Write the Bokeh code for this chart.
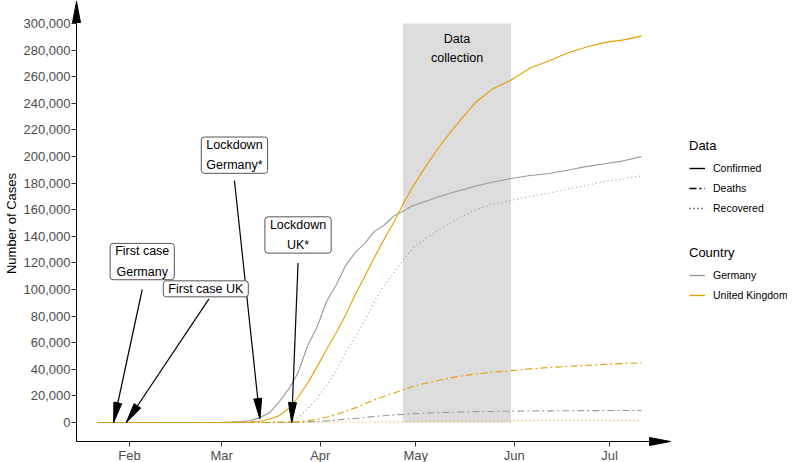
import math
import pandas as pd
from bokeh.plotting import figure
from bokeh.models import (Range1d, FixedTicker, NumeralTickFormatter, DatetimeTickFormatter,
                          Legend, LegendItem, Label)
from bokeh.embed import file_html
from bokeh.resources import INLINE

# ---------------- data ----------------
dates = ["2020-01-22", "2020-01-27", "2020-02-01", "2020-02-10", "2020-02-20", "2020-02-27",
         "2020-03-01", "2020-03-04", "2020-03-07", "2020-03-10", "2020-03-13", "2020-03-16",
         "2020-03-19", "2020-03-22", "2020-03-25", "2020-03-28", "2020-03-31", "2020-04-03",
         "2020-04-06", "2020-04-09", "2020-04-12", "2020-04-15", "2020-04-18", "2020-04-21",
         "2020-04-24", "2020-04-27", "2020-04-30", "2020-05-04", "2020-05-08", "2020-05-12",
         "2020-05-16", "2020-05-20", "2020-05-25", "2020-05-31", "2020-06-06", "2020-06-12",
         "2020-06-18", "2020-06-24", "2020-06-30", "2020-07-05", "2020-07-11"]

germany_confirmed = [0, 1, 8, 14, 16, 46, 130, 262, 799, 1457, 3675, 7272, 15320, 24873, 37323,
                     57695, 71808, 91159, 103374, 118181, 127854, 134753, 143724, 148291, 154999,
                     158758, 163009, 166152, 169575, 172576, 175233, 177778, 180600, 183410,
                     185674, 187184, 189822, 192556, 194693, 196554, 199919]
uk_confirmed = [0, 0, 2, 8, 9, 15, 36, 87, 209, 384, 800, 2500, 5000, 10500, 19000, 29500, 42000,
                55000, 67500, 81000, 96000, 110000, 124000, 137500, 150000, 164000, 177000,
                192000, 206000, 218500, 230000, 241000, 250500, 257500, 266500, 272000, 278000,
                282500, 286000, 287500, 290500]
germany_deaths = [0, 0, 0, 0, 0, 0, 0, 0, 0, 2, 7, 17, 44, 94, 206, 433, 775, 1275, 1810, 2607,
                  3022, 3804, 4538, 5033, 5760, 6126, 6623, 6993, 7392, 7661, 7914, 8144, 8283,
                  8522, 8685, 8763, 8856, 8927, 8985, 9016, 9068]
uk_deaths = [0, 0, 0, 0, 0, 0, 0, 0, 2, 6, 8, 56, 137, 281, 700, 1400, 2500, 4000, 6000, 8500,
             11000, 14000, 17000, 19500, 22000, 24500, 27000, 29500, 31600, 33500, 35200, 36500,
             37800, 39000, 40300, 41400, 42200, 43000, 43800, 44300, 44900]
germany_recovered = [0, 0, 0, 0, 14, 16, 16, 16, 18, 25, 46, 67, 113, 266, 3500, 10000, 18000,
                     28000, 39000, 53000, 64000, 77000, 91000, 103000, 112000, 122000, 131000,
                     138000, 144500, 150000, 155500, 160000, 164000, 167000, 170000, 172500,
                     175500, 178500, 181500, 183000, 185500]
uk_recovered = [0, 0, 0, 0, 8, 8, 8, 8, 18, 18, 18, 52, 65, 135, 140, 135, 135, 208, 325, 344,
                344, 368, 374, 540, 612, 644, 712, 821, 859, 874, 1119, 1134, 1161, 1190, 1240,
                1291, 1341, 1368, 1372, 1378, 1385]

month_ticks = ["2020-02-01", "2020-03-01", "2020-04-01", "2020-05-01", "2020-06-01", "2020-07-01"]
y_ticks = [0, 20000, 40000, 60000, 80000, 100000, 120000, 140000, 160000, 180000, 200000,
           220000, 240000, 260000, 280000, 300000]

collection_start = ["2020-04-27"]
collection_end = ["2020-05-31"]
collection_top = [300000]
collection_text = "Data\ncollection"
collection_text_date = "2020-05-14"
collection_text_value = 281000

event_labels = ["First case\nGermany", "First case UK", "Lockdown\nGermany*", "Lockdown\nUK*"]
event_dates = ["2020-01-27", "2020-01-31", "2020-03-13", "2020-03-23"]
event_values = [0, 0, 3000, 0]
label_dates = ["2020-02-05", "2020-02-25", "2020-03-05", "2020-03-25"]
label_values = [121000, 100500, 201000, 141000]
arrow_from_dates = ["2020-02-05", "2020-02-26", "2020-03-05", "2020-03-25"]
arrow_from_values = [100000, 93000, 182000, 120000]

# ---------------- styling / layout ----------------
FONT = "Liberation Sans"
GREY = "#999999"
ORANGE = "#E69F00"
BAND = "#dcdcdc"
DASHES = {"Confirmed": "solid", "Deaths": "7 3 2 3", "Recovered": "1 3"}

FRAME_W, FRAME_H = 716, 446
PX_PER_DAY = 3.18
PX_PER_UNIT = 1.33 / 1000.0
x_start = pd.Timestamp("2020-02-01") - pd.Timedelta(days=58 / PX_PER_DAY)
x_end = x_start + pd.Timedelta(days=FRAME_W / PX_PER_DAY)
y_end = 300000 + 23 / PX_PER_UNIT
y_start = y_end - FRAME_H / PX_PER_UNIT

p = figure(frame_width=FRAME_W, frame_height=FRAME_H, x_axis_type="datetime",
           x_range=Range1d(x_start, x_end), y_range=Range1d(y_start, y_end),
           output_backend="svg", toolbar_location=None,
           min_border_left=65, min_border_right=0, min_border_top=0, min_border_bottom=16)
p.outline_line_color = None
p.background_fill_color = "white"
p.border_fill_color = "white"
p.xgrid.visible = False
p.ygrid.visible = False

def ms(d):
    return pd.Timestamp(d).value / 1e6

X0, X1 = ms(x_start), ms(x_end)
sx = FRAME_W / (X1 - X0)          # px per ms
sy = FRAME_H / (y_end - y_start)  # px per unit

def fx(px):   # data x at px from frame left
    return X0 + px / sx

def fy(px):   # data y at px from frame bottom
    return y_start + px / sy

# data collection band
p.quad(left=pd.to_datetime(collection_start), right=pd.to_datetime(collection_end),
       bottom=[0], top=collection_top, fill_color=BAND, line_color=None)

x = pd.to_datetime(dates)
series = [
    (germany_confirmed, GREY, "Confirmed"), (uk_confirmed, ORANGE, "Confirmed"),
    (germany_deaths, GREY, "Deaths"), (uk_deaths, ORANGE, "Deaths"),
    (germany_recovered, GREY, "Recovered"), (uk_recovered, ORANGE, "Recovered"),
]
for vals, col, kind in series:
    p.line(x=x, y=vals, line_color=col, line_width=1.1, line_dash=DASHES[kind])

# axes (ticks/labels from Bokeh; lines drawn with arrowheads)
for ax in (p.xaxis[0], p.yaxis[0]):
    ax.axis_line_color = None
    ax.major_tick_line_color = "#333333"
    ax.major_tick_out = 0
    ax.major_tick_in = 5
    ax.minor_tick_line_color = None
    ax.major_label_text_font = FONT
    ax.major_label_text_font_size = "13px"
    ax.major_label_text_color = "#4d4d4d"
    ax.major_label_standoff = 1

p.xaxis.ticker = FixedTicker(ticks=[ms(d) for d in month_ticks])
p.xaxis.formatter = DatetimeTickFormatter(days="%b", months="%b", years="%b")
p.yaxis.ticker = FixedTicker(ticks=y_ticks)
p.yaxis.formatter = NumeralTickFormatter(format="0,0")
p.yaxis.axis_label = "Number of Cases"
p.yaxis.axis_label_text_font = FONT
p.yaxis.axis_label_text_font_size = "13px"
p.yaxis.axis_label_text_font_style = "normal"
p.yaxis.axis_label_text_color = "black"
p.yaxis.axis_label_standoff = 2

def head(tx, ty, frx, fry, L=20.0, hw=4.0):
    dx = (tx - frx) * sx
    dy = (ty - fry) * sy
    n = math.hypot(dx, dy)
    ux, uy = dx / n, dy / n
    bx, by = -ux * L, -uy * L
    px, py = -uy * hw, ux * hw
    pts = [(0.0, 0.0), (bx + px, by + py), (bx - px, by - py)]
    return [tx + a / sx for a, _ in pts], [ty + b / sy for _, b in pts]

heads_x, heads_y = [], []

# axis lines with arrows
ax_x, ax_y = fx(5), fy(5)
x_tip, y_tip = fx(599), fy(FRAME_H - 1)
p.segment(x0=[ax_x, ax_x], y0=[ax_y, ax_y], x1=[x_tip, ax_x], y1=[ax_y, y_tip],
          line_color="black", line_width=1)
for t in (head(x_tip, ax_y, ax_x, ax_y, L=21, hw=4), head(ax_x, y_tip, ax_x, ax_y, L=21, hw=4)):
    heads_x.append(t[0]); heads_y.append(t[1])

# event annotations
for lab, ed, ev, ld, lv, fd, fv in zip(event_labels, event_dates, event_values, label_dates,
                                       label_values, arrow_from_dates, arrow_from_values):
    p.segment(x0=[ms(fd)], y0=[fv], x1=[ms(ed)], y1=[ev], line_color="black", line_width=1.2)
    t = head(ms(ed), ev, ms(fd), fv)
    heads_x.append(t[0]); heads_y.append(t[1])
    p.add_layout(Label(x=ms(ld), y=lv, text=lab, text_align="center", text_baseline="middle",
                       text_font=FONT, text_font_size="12.5px", text_color="black",
                       text_line_height=1.45,
                       background_fill_color="white", background_fill_alpha=1,
                       border_line_color="#555555", border_line_width=1,
                       border_radius=3, padding=dict(left=5, right=5, top=1, bottom=1)))

p.patches(xs=heads_x, ys=heads_y, fill_color="black", line_color="black", line_width=1)

p.add_layout(Label(x=ms(collection_text_date), y=collection_text_value, text=collection_text,
                   text_align="center", text_baseline="middle", text_font=FONT,
                   text_font_size="12.5px", text_color="black", text_line_height=1.36))

# legends (key-only renderers: a single empty point draws nothing in the plot)
NAN = float("nan")

def legend_line(color, dash):
    return p.line(x=[NAN], y=[NAN], line_color=color, line_width=1.4, line_dash=dash)

data_items = [LegendItem(label=k, renderers=[legend_line("black", DASHES[k])])
              for k in ["Confirmed", "Deaths", "Recovered"]]
country_items = [LegendItem(label="Germany", renderers=[legend_line(GREY, "solid")]),
                 LegendItem(label="United Kingdom", renderers=[legend_line(ORANGE, "solid")])]

def make_legend(items, title, loc):
    lg = Legend(items=items, title=title, location=loc, orientation="vertical")
    lg.title_text_font = FONT
    lg.title_text_font_size = "13px"
    lg.title_text_font_style = "normal"
    lg.title_text_color = "black"
    lg.title_standoff = 7
    lg.label_text_font = FONT
    lg.label_text_font_size = "10.5px"
    lg.label_text_color = "black"
    lg.glyph_width = 16
    lg.glyph_height = 16
    lg.label_height = 16
    lg.label_standoff = 8
    lg.spacing = 4
    lg.padding = 0
    lg.margin = 0
    lg.border_line_color = None
    lg.background_fill_alpha = 0
    return lg

p.add_layout(make_legend(data_items, "Data", (618, 230)))
p.add_layout(make_legend(country_items, "Country", (618, 143)))

open("out.html", "w").write(file_html(p, INLINE))
